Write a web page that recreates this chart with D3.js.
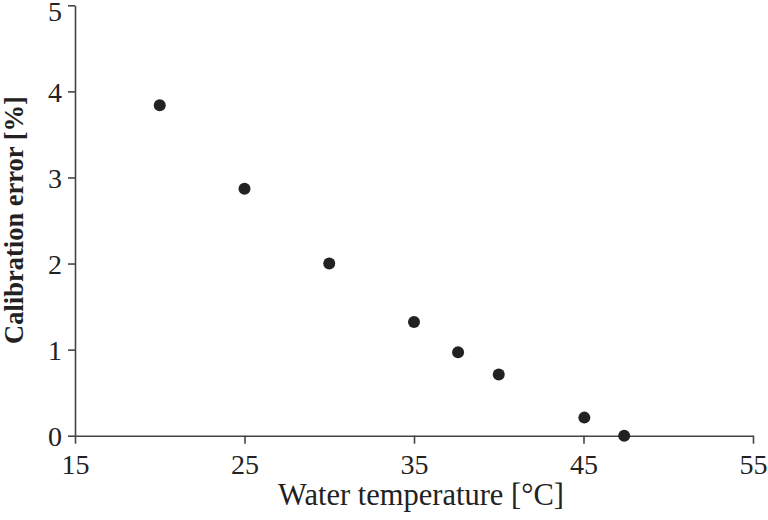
<!DOCTYPE html>
<html><head><meta charset="utf-8">
<script src="https://cdn.jsdelivr.net/npm/d3@7"></script>
<style>
html,body{margin:0;padding:0;background:#fff;}
svg text{font-family:"Liberation Serif","Times New Roman",serif;fill:#222;}
</style></head>
<body>
<svg id="chart" width="768" height="520"></svg>
<script>
const temperature = [20, 25, 30, 35, 37.6, 40, 45.05, 47.4];
const calibError = [3.84, 2.87, 2.0, 1.32, 0.97, 0.71, 0.21, 0.0];
const xTicks = [15, 25, 35, 45, 55];
const yTicks = [0, 1, 2, 3, 4, 5];
const xTitle = "Water temperature [°C]";
const yTitle = "Calibration error [%]";

const svg = d3.select("#chart");
const x = d3.scaleLinear().domain([15, 55]).range([75, 753]);
const y = d3.scaleLinear().domain([0, 5]).range([435.7, 5.3]);

const xAxis = svg.append("g").attr("transform", `translate(0,${y(0)})`)
  .call(d3.axisBottom(x).tickValues(xTicks).tickFormat(d3.format("d")).tickSize(8).tickPadding(10).tickSizeOuter(0));
const yAxis = svg.append("g").attr("transform", `translate(${x(15)},0)`)
  .call(d3.axisLeft(y).tickValues(yTicks).tickFormat(d3.format("d")).tickSize(7).tickPadding(6).tickSizeOuter(0));

[xAxis, yAxis].forEach(g => {
  g.select(".domain").attr("stroke", "#444").attr("stroke-width", 1.6);
  g.selectAll(".tick line").attr("stroke", "#444").attr("stroke-width", 1.6);
  g.selectAll(".tick text").attr("font-size", 28).attr("fill", "#222")
    .style("font-family", '"Liberation Serif", serif');
});
yAxis.selectAll(".tick text").attr("dy", d => d === 5 ? "0.55em" : "0.36em");

svg.append("text").attr("x", 421).attr("y", 505).attr("text-anchor", "middle")
  .attr("font-size", 30.5).text(xTitle);
svg.append("text").attr("transform", `translate(22.5,220) rotate(-90)`)
  .attr("text-anchor", "middle").attr("font-size", 26.5).attr("font-weight", "bold").text(yTitle);

svg.append("g").selectAll("circle").data(temperature).join("circle")
  .attr("cx", (d) => x(d)).attr("cy", (d, i) => y(calibError[i]))
  .attr("r", 6).attr("fill", "#222");
</script>
</body></html>
